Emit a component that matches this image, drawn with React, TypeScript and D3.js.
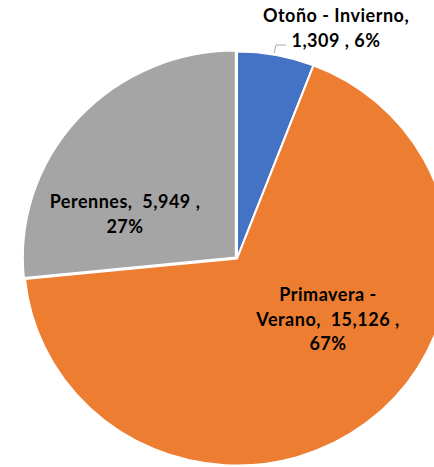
import React from "react";
import * as d3 from "d3";

const categories = ["Otoño - Invierno", "Primavera - Verano", "Perennes"];
const values = [1309, 15126, 5949];
const percents = ["6%", "67%", "27%"];
const valueLabels = ["1,309", "15,126", "5,949"];
const colors = ["#4472C4", "#ED7D31", "#A5A5A5"];

const W = 434;
const H = 467;
const cx = 237;
const cy = 258.5;
const R = 207;
const stretchX = 213 / 207;

// label layout (lines + anchor center positions)
const labelLines = [
  [`${categories[0]},`, `${valueLabels[0]} , ${percents[0]}`],
  ["Primavera -", `Verano,  ${valueLabels[1]} ,`, percents[1]],
  [`${categories[2]},  ${valueLabels[2]} ,`, percents[2]],
];
const labelCenters: [number, number][] = [
  [336, 22],
  [328, 301],
  [125, 208],
];
const explode = [0, 0, 1.5];

export default function App() {
  const pie = d3
    .pie<number>()
    .sort(null)
    .value((d) => d);
  const arcs = pie(values);
  const arc = d3.arc<d3.PieArcDatum<number>>().innerRadius(0).outerRadius(R);
  const lineH = 24.5;

  return (
    <div style={{ position: "absolute", left: 0, top: 0 }}>
      <svg width={W} height={H} style={{ display: "block" }}>
        <rect width={W} height={H} fill="#fff" />
        <g transform={`translate(${cx},${cy}) scale(${stretchX},1)`}>
          {arcs.map((a, i) => {
            const mid = (a.startAngle + a.endAngle) / 2;
            const dx = explode[i] * Math.sin(mid);
            const dy = -explode[i] * Math.cos(mid);
            return (
              <path
                key={i}
                d={arc(a) || ""}
                fill={colors[i]}
                stroke="#fff"
                strokeWidth={2}
                strokeLinejoin="miter"
                transform={`translate(${dx},${dy})`}
              />
            );
          })}
        </g>
        <polyline
          points="286,45 276,45 274,53"
          fill="none"
          stroke="#A6A6A6"
          strokeWidth={1}
        />
        {labelLines.map((lines, i) => (
          <text
            key={i}
            textAnchor="middle"
            fontFamily="Lato, 'Open Sans', sans-serif"
            fontWeight="bold"
            fontSize={18}
            letterSpacing={0.5}
            fill="#000"
          >
            {lines.map((l, j) => (
              <tspan
                key={j}
                x={labelCenters[i][0]}
                y={labelCenters[i][1] + j * lineH}
                style={{ whiteSpace: "pre" }}
              >
                {l}
              </tspan>
            ))}
          </text>
        ))}
      </svg>
    </div>
  );
}
